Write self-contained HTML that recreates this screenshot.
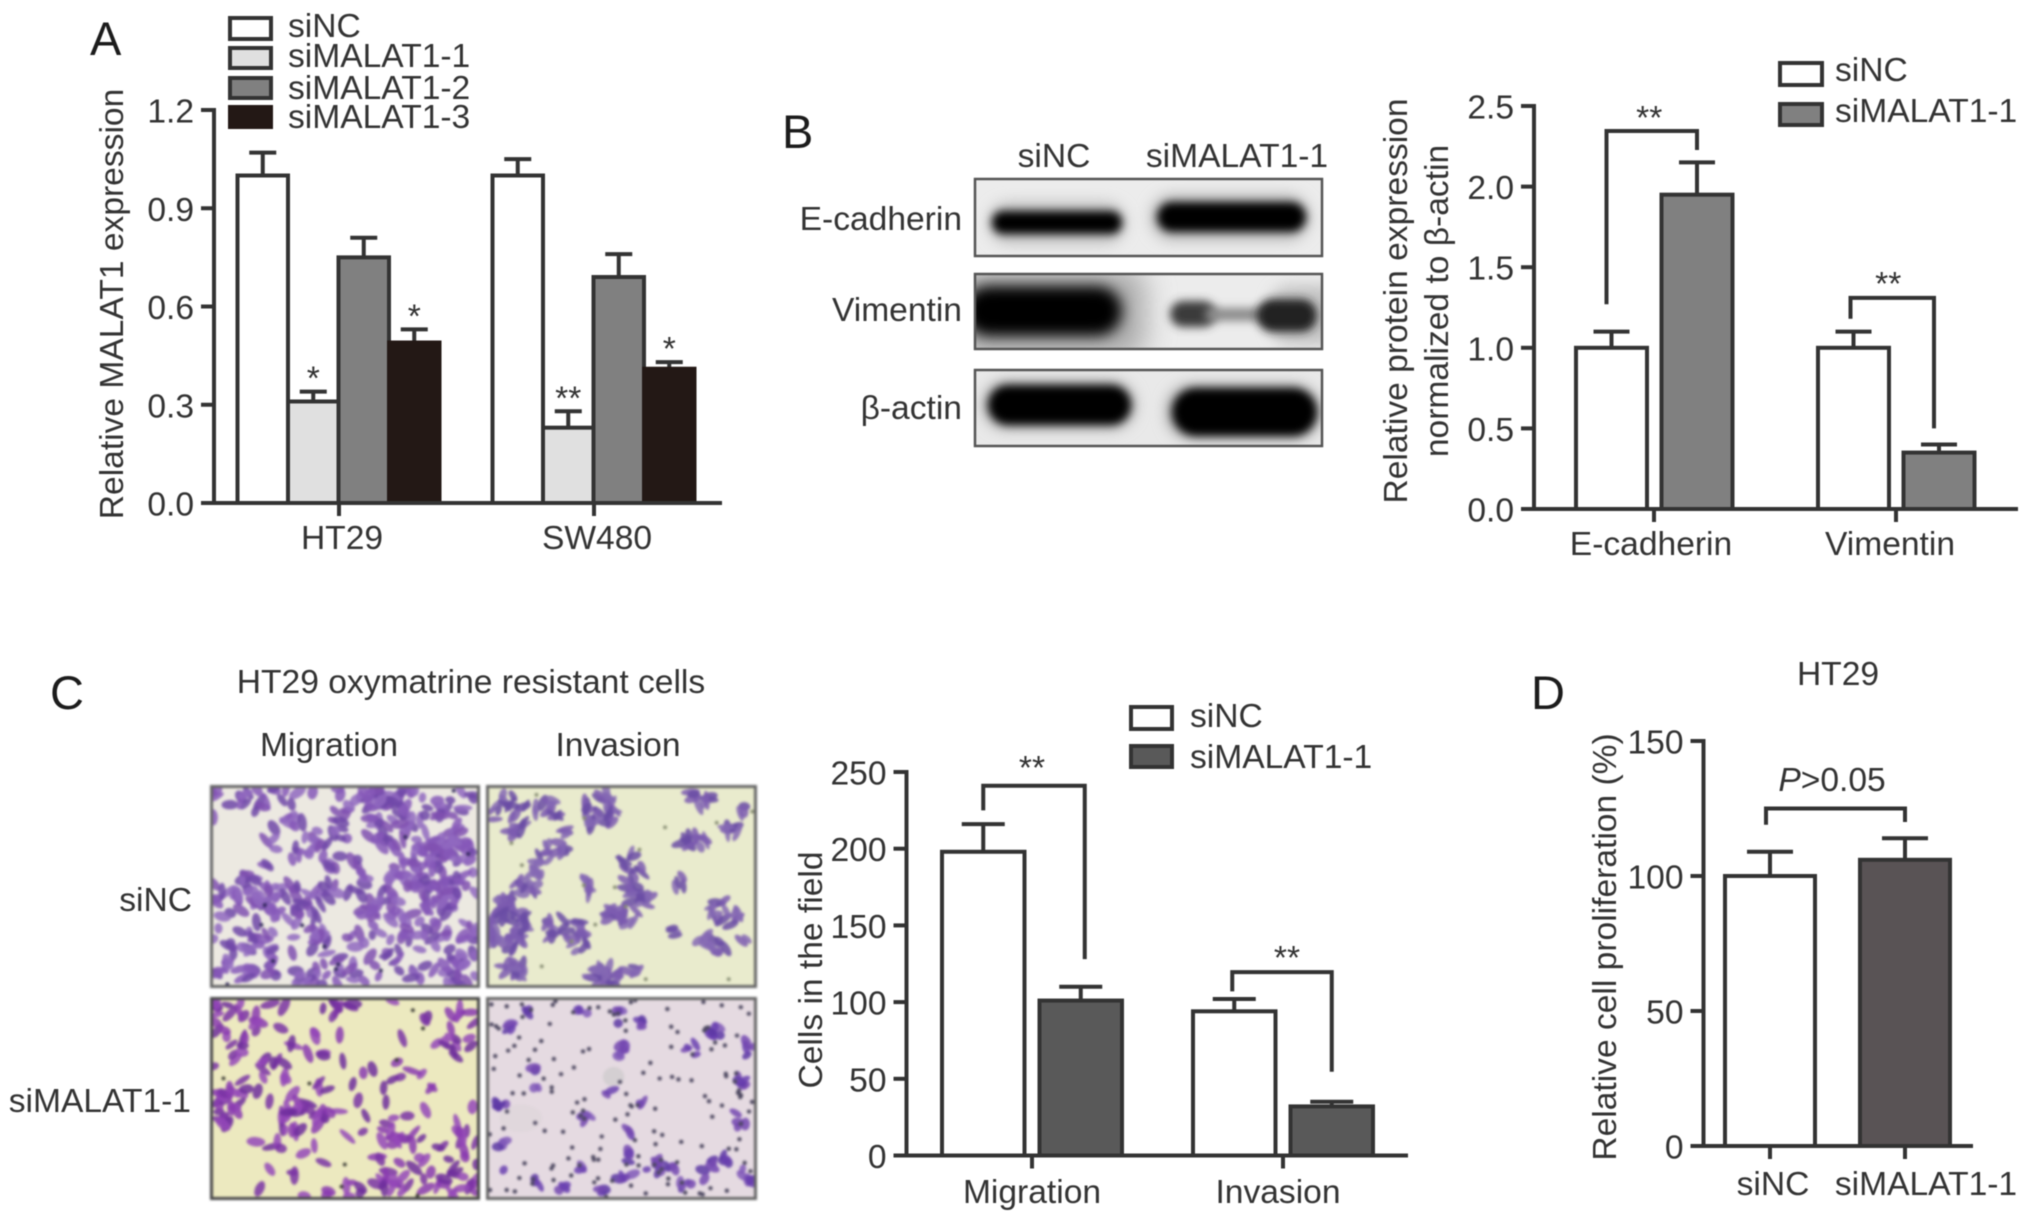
<!DOCTYPE html>
<html lang="en">
<head>
<meta charset="utf-8">
<title>MALAT1 knockdown figure</title>
<style>
html,body{margin:0;padding:0;background:#fff;}
#stage{position:relative;width:2032px;height:1223px;overflow:hidden;background:#fff;font-family:"Liberation Sans",sans-serif;}
#stage svg{position:absolute;left:0;top:0;filter:blur(.6px);}
canvas{position:absolute;box-sizing:border-box;border:3px solid #666;filter:blur(1.3px);}
text{font-family:"Liberation Sans",sans-serif;fill:#333;font-size:33.6px;}
.panel{font-size:47px;fill:#1c1c1c;}
</style>
</head>
<body>
<div id="stage">

<canvas id="m1" width="270" height="203" style="left:210px;top:785px;width:270px;height:203px"></canvas>
<canvas id="m2" width="271" height="203" style="left:486px;top:785px;width:271px;height:203px"></canvas>
<canvas id="m3" width="270" height="203" style="left:210px;top:997px;width:270px;height:203px;border-color:#484848"></canvas>
<canvas id="m4" width="271" height="203" style="left:486px;top:997px;width:271px;height:203px"></canvas>

<svg id="fig" width="2032" height="1223" viewBox="0 0 2032 1223" xmlns="http://www.w3.org/2000/svg">
  <defs>
    <filter id="b3" x="-30%" y="-100%" width="160%" height="300%"><feGaussianBlur stdDeviation="4.5"/></filter>
    <filter id="b6" x="-30%" y="-100%" width="160%" height="300%"><feGaussianBlur stdDeviation="7"/></filter>
    <filter id="b12" x="-50%" y="-80%" width="200%" height="260%"><feGaussianBlur stdDeviation="14"/></filter>
    <clipPath id="c1"><rect x="975" y="179" width="347" height="77"/></clipPath>
    <clipPath id="c2"><rect x="975" y="274" width="347" height="75"/></clipPath>
    <clipPath id="c3"><rect x="975" y="370" width="347" height="76"/></clipPath>
  </defs>

  <!-- Panel letters -->
  <text class="panel" x="90" y="55">A</text>
  <text class="panel" x="782" y="148">B</text>
  <text class="panel" x="50" y="709">C</text>
  <text class="panel" x="1531" y="709">D</text>

  <!-- Panel A legend -->
  <g>
    <rect x="230" y="18" width="41" height="21" fill="#fff" stroke="#333" stroke-width="4"/>
    <rect x="230" y="48" width="41" height="20" fill="#e0e0e0" stroke="#333" stroke-width="4"/>
    <rect x="230" y="78" width="41" height="20" fill="#808080" stroke="#333" stroke-width="4"/>
    <rect x="230" y="107" width="41" height="20" fill="#231815" stroke="#231815" stroke-width="4"/>
    <text x="288" y="37">siNC</text>
    <text x="288" y="67">siMALAT1-1</text>
    <text x="288" y="99">siMALAT1-2</text>
    <text x="288" y="128">siMALAT1-3</text>
  </g>
  <text transform="translate(123,304) rotate(-90)" text-anchor="middle">Relative MALAT1 expression</text>

  <!-- Panel B blots -->
  <g>
    <text x="1054" y="167" text-anchor="middle">siNC</text>
    <text x="1237" y="167" text-anchor="middle">siMALAT1-1</text>
    <text x="962" y="230" text-anchor="end">E-cadherin</text>
    <text x="962" y="321" text-anchor="end">Vimentin</text>
    <text x="962" y="419" text-anchor="end">β-actin</text>

    <g clip-path="url(#c1)">
      <rect x="975" y="179" width="347" height="77" fill="#ececec"/>
      <rect x="988" y="202" width="138" height="42" rx="21" fill="#c0c0c0" filter="url(#b6)"/>
      <rect x="1150" y="194" width="160" height="47" rx="23" fill="#bcbcbc" filter="url(#b6)"/>
      <rect x="992" y="211" width="130" height="23" rx="11" fill="#000" filter="url(#b3)"/>
      <rect x="1157" y="202" width="149" height="30" rx="15" fill="#000" filter="url(#b3)"/>
    </g>
    <rect x="975" y="179" width="347" height="77" fill="none" stroke="#555" stroke-width="2.5"/>

    <g clip-path="url(#c2)">
      <rect x="975" y="274" width="347" height="75" fill="#ececec"/>
      <rect x="955" y="268" width="190" height="90" rx="20" fill="#a8a8a8" filter="url(#b12)"/>
      <rect x="1270" y="285" width="70" height="60" rx="20" fill="#c4c4c4" filter="url(#b6)"/>
      <rect x="964" y="286" width="158" height="50" rx="25" fill="#000" filter="url(#b6)"/>
      <rect x="1170" y="301" width="46" height="26" rx="13" fill="#3a3a3a" filter="url(#b3)"/>
      <rect x="1205" y="308" width="80" height="13" rx="6" fill="#8a8a8a" filter="url(#b3)"/>
      <rect x="1257" y="299" width="60" height="33" rx="16" fill="#202020" filter="url(#b3)"/>
    </g>
    <rect x="975" y="274" width="347" height="75" fill="none" stroke="#555" stroke-width="2.5"/>

    <g clip-path="url(#c3)">
      <rect x="975" y="370" width="347" height="76" fill="#e9e9e9"/>
      <rect x="982" y="380" width="154" height="50" rx="25" fill="#b0b0b0" filter="url(#b6)"/>
      <rect x="1166" y="384" width="154" height="56" rx="26" fill="#aaaaaa" filter="url(#b6)"/>
      <rect x="988" y="385" width="143" height="40" rx="20" fill="#000" filter="url(#b3)"/>
      <rect x="1172" y="388" width="145" height="48" rx="24" fill="#000" filter="url(#b3)"/>
    </g>
    <rect x="975" y="370" width="347" height="76" fill="none" stroke="#555" stroke-width="2.5"/>
  </g>

  <!-- Panel B legend / titles -->
  <g>
    <rect x="1780" y="63" width="42" height="22" fill="#fff" stroke="#333" stroke-width="4"/>
    <rect x="1780" y="104" width="42" height="21" fill="#808080" stroke="#333" stroke-width="4"/>
    <text x="1835" y="81">siNC</text>
    <text x="1835" y="122">siMALAT1-1</text>
  </g>
  <text transform="translate(1407,301) rotate(-90)" text-anchor="middle">Relative protein expression</text>
  <text transform="translate(1448,301) rotate(-90)" text-anchor="middle">normalized to β-actin</text>

  <!-- Panel C labels -->
  <text x="471" y="693" text-anchor="middle">HT29 oxymatrine resistant cells</text>
  <text x="329" y="756" text-anchor="middle">Migration</text>
  <text x="618" y="756" text-anchor="middle">Invasion</text>
  <text x="192" y="911" text-anchor="end">siNC</text>
  <text x="191" y="1112" text-anchor="end">siMALAT1-1</text>

  <g>
    <rect x="1131" y="707" width="41" height="22" fill="#fff" stroke="#333" stroke-width="4"/>
    <rect x="1131" y="746" width="41" height="21" fill="#595959" stroke="#333" stroke-width="4"/>
    <text x="1190" y="727">siNC</text>
    <text x="1190" y="768">siMALAT1-1</text>
  </g>
  <text transform="translate(822,970) rotate(-90)" text-anchor="middle">Cells in the field</text>

  <!-- Panel D labels -->
  <text x="1838" y="685" text-anchor="middle">HT29</text>
  <text x="1832" y="791" text-anchor="middle"><tspan font-style="italic">P</tspan>&gt;0.05</text>
  <text transform="translate(1616,947) rotate(-90)" text-anchor="middle">Relative cell proliferation (%)</text>

  <g id="chartA"></g>
  <g id="chartB"></g>
  <g id="chartC"></g>
  <g id="chartD"></g>
</svg>
</div>

<script>
// ---------- Chart A data ----------
const aCategories = ['HT29', 'SW480'];
const aSeriesNames = ['siNC', 'siMALAT1-1', 'siMALAT1-2', 'siMALAT1-3'];
const aValues = [[1.0, 1.0], [0.31, 0.23], [0.75, 0.69], [0.49, 0.41]];
const aErrors = [[0.07, 0.05], [0.03, 0.05], [0.06, 0.07], [0.04, 0.02]];
const aStars = [['', ''], ['*', '**'], ['', ''], ['*', '*']];
const aTicks = ['0.0', '0.3', '0.6', '0.9', '1.2'];

// ---------- Chart B data ----------
const bCategories = ['E-cadherin', 'Vimentin'];
const bSeriesNames = ['siNC', 'siMALAT1-1'];
const bValues = [[1.0, 1.0], [1.95, 0.35]];
const bErrors = [[0.1, 0.1], [0.2, 0.05]];
const bTicks = ['0.0', '0.5', '1.0', '1.5', '2.0', '2.5'];
const bBracketStart = [1.27, 1.18];
const bBracketTop = [2.345, 1.31];
const bBracketEnd = [2.227, 0.5];
const bBracketText = ['**', '**'];

// ---------- Chart C data ----------
const cCategories = ['Migration', 'Invasion'];
const cSeriesNames = ['siNC', 'siMALAT1-1'];
const cValues = [[198, 94], [101, 32]];
const cErrors = [[18, 8], [9, 3]];
const cTicks = ['0', '50', '100', '150', '200', '250'];
const cBracketStart = [225, 107];
const cBracketTop = [241, 119.5];
const cBracketEnd = [128, 54.6];
const cBracketText = ['**', '**'];

// ---------- Chart D data ----------
const dCategories = ['siNC', 'siMALAT1-1'];
const dSeriesNames = ['proliferation'];
const dValues = [[100, 106]];
const dErrors = [[9, 8]];
const dTicks = ['0', '50', '100', '150'];
const dBracketStart = [119];
const dBracketTop = [125];
const dBracketEnd = [120];

const NS = 'http://www.w3.org/2000/svg';
const INK = '#333';

function mk(tag, attrs, parent) {
  const el = document.createElementNS(NS, tag);
  for (const k in attrs) el.setAttribute(k, attrs[k]);
  parent.appendChild(el);
  return el;
}

function line(parent, x1, y1, x2, y2, w) {
  return mk('line', { x1: x1, y1: y1, x2: x2, y2: y2, stroke: INK, 'stroke-width': w || 4 }, parent);
}

function slug(s) {
  return String(s).toLowerCase().replace(/[^a-z0-9]+/g, '-');
}

function drawChart(cfg) {
  const g = document.getElementById(cfg.id);
  const yMax = parseFloat(cfg.ticks[cfg.ticks.length - 1]);
  const yScale = v => cfg.base - (v / yMax) * (cfg.base - cfg.top);
  const groupCenter = i => cfg.x0 + i * cfg.step;
  const barLeft = (s, i) => groupCenter(i) + cfg.offsets[s];

  // bars + error bars
  cfg.values.forEach((series, s) => {
    series.forEach((v, i) => {
      const x = barLeft(s, i);
      const cx = x + cfg.barW / 2;
      const top = yScale(v + cfg.errors[s][i]);
      const err = mk('line', { x1: cx, x2: cx, y1: yScale(v), y2: top, stroke: INK, 'stroke-width': 4 }, g);
      
      
      const cap = mk('line', { x1: cx - cfg.capW / 2, x2: cx + cfg.capW / 2, y1: top, y2: top, stroke: INK, 'stroke-width': 4 }, g);
      
      
      const fill = cfg.pointColors ? cfg.pointColors[i] : cfg.colors[s];
      const bar = mk('rect', { x: x, y: yScale(v), width: cfg.barW, height: cfg.base - yScale(v), fill: fill, stroke: cfg.strokes ? cfg.strokes[s] : INK, 'stroke-width': 4 }, g);
      
      
      if (cfg.stars && cfg.stars[s][i]) {
        const st = mk('text', { x: cx, y: top - 2, 'text-anchor': 'middle' }, g);
        st.textContent = cfg.stars[s][i];
        
        
      }
    });
  });

  // axes
  const yAxis = line(g, cfg.axisX, cfg.top - 2, cfg.axisX, cfg.base + 2);
  
  
  const xAxis = line(g, cfg.axisX - 13, cfg.base, cfg.axisRight, cfg.base);
  
  

  cfg.ticks.forEach(t => {
    const y = yScale(parseFloat(t));
    const tk = line(g, cfg.axisX - 13, y, cfg.axisX, y);
    
    
    const lb = mk('text', { x: cfg.axisX - 20, y: y + 12.5, 'text-anchor': 'end' }, g);
    lb.textContent = t;
    
    
  });

  cfg.categories.forEach((c, i) => {
    const x = groupCenter(i);
    const tk = line(g, x, cfg.base, x, cfg.base + 13);
    
    
    const lb = mk('text', { x: x + (cfg.labelShift ? cfg.labelShift[i] : 0), y: cfg.base + cfg.labelDy, 'text-anchor': 'middle' }, g);
    lb.textContent = c;
    
    
  });

  // significance brackets
  if (cfg.bStart) {
    cfg.bStart.forEach((start, i) => {
      const barL = cfg.sameSeries ? barLeft(0, 0) : barLeft(0, i);
      const barR = cfg.sameSeries ? barLeft(0, 1) : barLeft(1, i);
      const left = barL + cfg.barW / 2 + cfg.bNudge[i][0];
      const right = barR + cfg.barW / 2 + cfg.bNudge[i][1];
      const pts = [left, yScale(start), left, yScale(cfg.bTop[i]), right, yScale(cfg.bTop[i]), right, yScale(cfg.bEnd[i])];
      const br = mk('polyline', { points: pts.join(' '), fill: 'none', stroke: INK, 'stroke-width': 4 }, g);
      
      
      if (cfg.bText) {
        const st = mk('text', { x: (left + right) / 2 + cfg.bStarNudge[i][0], y: yScale(cfg.bTop[i]) + cfg.bStarNudge[i][1], 'text-anchor': 'middle' }, g);
        st.textContent = cfg.bText[i];
        
        
      }
    });
  }
}

drawChart({
  id: 'chartA', categories: aCategories, series: aSeriesNames, values: aValues, errors: aErrors, stars: aStars, ticks: aTicks,
  top: 110, base: 503, axisX: 214, axisRight: 722, x0: 339, step: 255, barW: 50.5, capW: 27,
  offsets: [-101.5, -51, -0.5, 50], colors: ['#fff', '#e0e0e0', '#808080', '#231815'],
  strokes: [INK, INK, INK, '#231815'], labelDy: 46, labelShift: [3, 3]
});
drawChart({
  id: 'chartB', categories: bCategories, series: bSeriesNames, values: bValues, errors: bErrors, ticks: bTicks,
  top: 106, base: 509, axisX: 1534, axisRight: 2018, x0: 1654, step: 242, barW: 71, capW: 36,
  offsets: [-78, 7.5], colors: ['#fff', '#808080'], labelDy: 46, labelShift: [-3, -6],
  bStart: bBracketStart, bTop: bBracketTop, bEnd: bBracketEnd, bText: bBracketText,
  bNudge: [[-5, 0], [-3, -5]], bStarNudge: [[-2.5, -2], [-4, -3]]
});
drawChart({
  id: 'chartC', categories: cCategories, series: cSeriesNames, values: cValues, errors: cErrors, ticks: cTicks,
  top: 772, base: 1155.5, axisX: 906.5, axisRight: 1408, x0: 1032, step: 251, barW: 82.5, capW: 43,
  offsets: [-90, 7.5], colors: ['#fff', '#595959'], labelDy: 47.5, labelShift: [0, -5],
  bStart: cBracketStart, bTop: cBracketTop, bEnd: cBracketEnd, bText: cBracketText,
  bNudge: [[0, 4], [-2, 0]], bStarNudge: [[-2, -7], [5, -3]]
});
drawChart({
  id: 'chartD', categories: dCategories, series: dSeriesNames, values: dValues, errors: dErrors, ticks: dTicks,
  top: 741, base: 1146, axisX: 1703.5, axisRight: 1973, x0: 1770, step: 135, barW: 90, capW: 46,
  offsets: [-45], colors: ['#fff'], pointColors: ['#fff', '#595355'], labelDy: 49, labelShift: [3, 21],
  bStart: dBracketStart, bTop: dBracketTop, bEnd: dBracketEnd, bNudge: [[-4, 0]], sameSeries: true
});
</script>

<script>
// ---------- Micrograph textures (seeded, purely decorative photo stand-ins) ----------
function rng(seed) {
  return function () {
    seed |= 0; seed = seed + 0x6D2B79F5 | 0;
    let t = Math.imul(seed ^ seed >>> 15, 1 | seed);
    t = t + Math.imul(t ^ t >>> 7, 61 | t) ^ t;
    return ((t ^ t >>> 14) >>> 0) / 4294967296;
  };
}

function paint(id, opt) {
  const cv = document.getElementById(id);
  const ctx = cv.getContext('2d');
  const W = cv.width, H = cv.height;
  const R = rng(opt.seed);
  const mult = opt.mult || 1;
  ctx.fillStyle = opt.bg;
  ctx.fillRect(0, 0, W, H);
  (opt.smudges || []).forEach(s => {
    ctx.fillStyle = s[4];
    ctx.beginPath();
    ctx.ellipse(s[0] * W, s[1] * H, s[2] * W, s[3] * H, 0, 0, 7);
    ctx.fill();
  });
  const inHole = (x, y) => (opt.holes || []).some(h => {
    const dx = (x - h[0]) / h[2], dy = (y - h[1]) / h[3];
    return dx * dx + dy * dy < 1;
  });
  const cell = (x, y) => {
    ctx.save();
    ctx.globalAlpha = 0.85;
    ctx.translate(x * W, y * H);
    ctx.rotate(R() * Math.PI);
    ctx.fillStyle = opt.colors[Math.floor(R() * opt.colors.length)];
    ctx.beginPath();
    ctx.ellipse(0, 0, opt.len * (0.65 + R() * 0.6), opt.wid * (0.75 + R() * 0.5), 0, 0, 7);
    ctx.fill();
    ctx.restore();
  };
  for (let i = 0; i < opt.n; i++) {
    const x = R(), y = R();
    if (!inHole(x, y)) cell(x, y);
  }
  (opt.clusters || []).forEach(c => {
    for (let i = 0; i < c[4] * mult; i++) {
      const a = R() * 6.283, r = Math.sqrt(R());
      cell(c[0] + Math.cos(a) * r * c[2], c[1] + Math.sin(a) * r * c[3]);
    }
  });
  for (let i = 0; i < (opt.dots || 0); i++) {
    const x = R() * W, y = R() * H;
    ctx.fillStyle = opt.dotColor || '#3a3a5a';
    ctx.beginPath();
    ctx.arc(x, y, opt.dotSize || 1.5, 0, 7);
    ctx.fill();
  }
}

paint('m1', {
  seed: 11, bg: '#ece9e1', colors: ['#8658b8', '#9068c0', '#7048a8', '#8050b0'], n: 500, len: 8, wid: 4.2, dots: 12, dotColor: '#30285a', dotSize: 2,
  holes: [[.09, .24, .11, .15], [.37, .09, .07, .06], [.55, .17, .05, .09], [.3, .43, .1, .05], [.62, .38, .07, .08], [.47, .66, .07, .09], [.74, .55, .04, .08], [.28, .72, .05, .04], [.02, .85, .02, .08], [.88, .03, .05, .03], [.21, .15, .05, .04]],
  clusters: [[.84, .43, .13, .2, 60], [.65, .1, .1, .1, 14], [.2, .58, .1, .08, 16], [.65, .62, .08, .06, 12]]
});
paint('m2', {
  seed: 23, bg: '#e9ebcd', colors: ['#7d5cb0', '#8568b4', '#6a4ca4'], n: 0, len: 8.5, wid: 3.5, dots: 16, dotColor: '#868c72', dotSize: 2, mult: 1.3,
  clusters: [[.07, .13, .07, .12, 16], [.2, .1, .08, .07, 9], [.42, .1, .07, .1, 22], [.28, .22, .02, .02, 2], [.79, .06, .06, .05, 6], [.95, .1, .03, .03, 2], [.9, .2, .05, .04, 5],
    [.24, .32, .06, .05, 9], [.18, .42, .02, .08, 6], [.54, .41, .04, .08, 8], [.55, .53, .04, .06, 6], [.6, .57, .03, .03, 4], [.77, .27, .05, .04, 10], [.72, .47, .03, .05, 3],
    [.07, .7, .07, .15, 42], [.12, .5, .06, .05, 6], [.28, .72, .09, .06, 16], [.37, .5, .02, .07, 4], [.5, .65, .08, .04, 12], [.34, .8, .03, .05, 3],
    [.1, .93, .06, .05, 12], [.44, .95, .06, .05, 18], [.9, .63, .06, .07, 10], [.83, .8, .07, .05, 8], [.7, .72, .01, .03, 2], [.55, .93, .03, .03, 3], [.96, .77, .02, .01, 1]]
});
paint('m3', {
  seed: 37, bg: '#ece9bf', colors: ['#8a3bb0', '#7a34a5', '#9448b8', '#6e2e9c'], n: 170, len: 8.5, wid: 4, dots: 8, dotColor: '#3a3a34', dotSize: 2,
  holes: [[.17, .6, .11, .08], [.09, .82, .09, .12], [.52, .6, .05, .07], [.93, .45, .07, .12], [.55, .78, .06, .1], [.62, .2, .03, .1], [.85, .65, .08, .06], [.3, .82, .07, .05], [.47, .38, .1, .05]],
  clusters: [[.1, .15, .08, .1, 10], [.06, .55, .05, .1, 14], [.3, .6, .06, .09, 14], [.42, .58, .04, .04, 5], [.9, .2, .06, .08, 8], [.22, .33, .05, .03, 5], [.7, .92, .07, .06, 10], [.93, .93, .06, .06, 10], [.73, .72, .08, .03, 8], [.94, .68, .03, .04, 4]]
});
paint('m4', {
  seed: 53, bg: '#e5dae1', colors: ['#6a3fb0', '#7448b0', '#5d38a4', '#8058b8'], n: 0, len: 6.5, wid: 4, dots: 150, dotColor: '#4d4860', dotSize: 2.2,
  smudges: [[.47, .39, .04, .05, '#d4cfd2'], [.12, .6, .08, .07, '#e0d7dc']],
  clusters: [[.49, .2, .03, .09, 8], [.08, .13, .03, .03, 4], [.15, .05, .01, .04, 2], [.36, .05, .03, .02, 3], [.5, .05, .03, .02, 3], [.58, .1, .02, .04, 4], [.85, .15, .04, .04, 6], [.77, .25, .03, .03, 4], [.97, .25, .03, .04, 4], [.95, .42, .03, .05, 5], [.05, .55, .04, .03, 5], [.17, .35, .02, .02, 2], [.18, .43, .02, .03, 2], [.46, .48, .02, .03, 2], [.58, .53, .02, .02, 2], [.37, .6, .015, .03, 3], [.54, .66, .02, .02, 2], [.53, .78, .02, .05, 3], [.95, .6, .03, .05, 4], [.06, .75, .03, .05, 3], [.05, .85, .02, .02, 1], [.18, .92, .03, .03, 3], [.34, .86, .02, .02, 2], [.26, .95, .03, .02, 3], [.52, .9, .04, .03, 5], [.66, .85, .07, .04, 10], [.73, .95, .04, .03, 5], [.83, .88, .03, .06, 4], [.88, .82, .04, .05, 6], [.97, .9, .03, .05, 5], [.42, .97, .04, .02, 3]]
});
</script>
</body>
</html>
